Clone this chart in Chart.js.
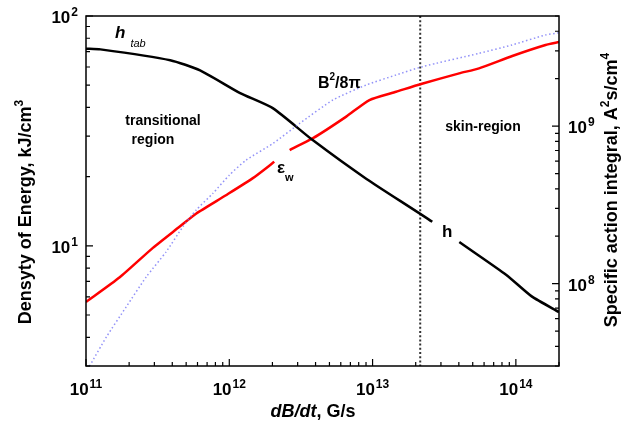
<!DOCTYPE html>
<html>
<head>
<meta charset="utf-8">
<script src="https://cdn.jsdelivr.net/npm/chart.js@4.4.1/dist/chart.umd.min.js"></script>
<style>
    html, body { margin: 0; padding: 0; background: #fff; }
    #wrap { width: 624px; height: 434px; }
</style>
</head>
<body>
<div id="wrap"><canvas id="chart" width="624" height="434"></canvas></div>
<script>
// dB/dt (G/s) vs. specific action integral h (A^2 s/cm^4), right axis
const hX = [1e11, 1.26e11, 3.87e11, 6.25e11, 1.19e12, 2.01e12, 3.82e12, 9.07e12, 2.61e13, 4.03e13, 8.54e13, 1.29e14, 2e14];
const hY = [3.1e9, 3.07e9, 2.62e9, 2.26e9, 1.62e9, 1.30e9, 8.15e8, 4.62e8, 2.47e8, 1.84e8, 1.14e8, 8.3e7, 6.6e7];
const hGapAfter = 8; // label "h" sits in this gap

// energy density eps_w, kJ/cm^3 (left axis)
const epsX = [1e11, 1.72e11, 2.93e11, 4.49e11, 5.86e11, 9.48e11, 1.46e12, 2.06e12, 2.64e12, 3.84e12, 6.55e12, 9.51e12, 1.46e13, 2.18e13, 4.02e13, 5.53e13, 9.44e13, 1.61e14, 2e14];
const epsY = [5.7, 7.3, 9.8, 12.1, 13.8, 16.6, 19.7, 23.2, 26.1, 29.4, 36.5, 43.1, 46.8, 50.6, 56.3, 59.2, 67.0, 74.8, 77.0];
const epsGapAfter = 7; // label "eps_w" gap

// magnetic energy density B^2/8pi, kJ/cm^3 (left axis)
const bX = [1.06e11, 1.39e11, 1.91e11, 2.64e11, 3.63e11, 4.74e11, 5.86e11, 7.67e11, 1.0e12, 1.31e12, 2.02e12, 3.1e12, 5.29e12, 9.03e12, 1.46e13, 2.23e13, 5.53e13, 9.4e13, 1.61e14, 2e14];
const bY = [3.0, 4.02, 5.43, 7.34, 9.43, 12.1, 14.3, 16.9, 20.3, 23.6, 27.9, 34.1, 43.1, 50.1, 55.4, 60.2, 68.8, 74.8, 82.7, 84.5];

const skinBoundary = 2.15e13;
const xDecades = [11, 12, 13, 14];
const yLeftDecades = [0, 1, 2];
const yRightDecades = [7, 8, 9];

const FONT = '"Liberation Sans", Arial, sans-serif';

function pts(xs, ys) {
    return xs.map((x, i) => ({x: x, y: ys[i]}));
}

// text runs (with sub/superscripts) laid out left to right
function runsWidth(ctx, runs) {
    let w = 0;
    runs.forEach(r => {
        ctx.font = r.font;
        w += ctx.measureText(r.t).width + (r.gap || 0);
    });
    return w;
}

function drawRuns(ctx, x, y, runs, align) {
    let w = runsWidth(ctx, runs);
    let cx = align === 'center' ? x - w / 2 : align === 'right' ? x - w : x;
    ctx.textAlign = 'left';
    ctx.textBaseline = 'alphabetic';
    runs.forEach(r => {
        ctx.font = r.font;
        cx += (r.gap || 0);
        ctx.fillText(r.t, cx, y + (r.dy || 0));
        cx += ctx.measureText(r.t).width;
    });
}

function pow10(exp) {
    return [
        {t: '10', font: 'bold 17px ' + FONT},
        {t: String(exp), font: 'bold 12px ' + FONT, dy: -7, gap: 1}
    ];
}

function tickValues(decades, min, max) {
    let out = [];
    decades.forEach(d => {
        for (let m = 1; m <= 9; m++) {
            let v = m * Math.pow(10, d);
            if (v >= min * 0.999 && v <= max * 1.001) out.push({v: v, major: m === 1});
        }
    });
    return out;
}

const decor = {
    id: 'decor',
    beforeDatasetsDraw(chart) {
        const {ctx, chartArea: a, scales} = chart;
        let px = scales.x.getPixelForValue(skinBoundary);
        ctx.save();
        ctx.strokeStyle = '#333';
        ctx.lineWidth = 2;
        ctx.setLineDash([2, 2.2]);
        ctx.beginPath();
        ctx.moveTo(px, a.top);
        ctx.lineTo(px, a.bottom);
        ctx.stroke();
        ctx.restore();
    },
    afterDraw(chart) {
        const {ctx, chartArea: a, scales} = chart;
        const sx = scales.x, sy = scales.y, sy1 = scales.y1;
        ctx.save();

        // frame
        ctx.strokeStyle = '#000';
        ctx.lineWidth = 1.5;
        ctx.strokeRect(a.left, a.top, a.right - a.left, a.bottom - a.top);

        // inward ticks
        ctx.lineWidth = 1.2;
        ctx.beginPath();
        tickValues(xDecades, sx.min, sx.max).forEach(t => {
            let p = sx.getPixelForValue(t.v);
            ctx.moveTo(p, a.bottom);
            ctx.lineTo(p, a.bottom - (t.major ? 7 : 4));
        });
        tickValues(yLeftDecades, sy.min, sy.max).forEach(t => {
            let p = sy.getPixelForValue(t.v);
            ctx.moveTo(a.left, p);
            ctx.lineTo(a.left + (t.major ? 7 : 4), p);
        });
        tickValues(yRightDecades, sy1.min, sy1.max).forEach(t => {
            let p = sy1.getPixelForValue(t.v);
            ctx.moveTo(a.right, p);
            ctx.lineTo(a.right - (t.major ? 7 : 4), p);
        });
        ctx.stroke();

        // tick labels
        ctx.fillStyle = '#000';
        xDecades.forEach(d => {
            drawRuns(ctx, sx.getPixelForValue(Math.pow(10, d)), 395, pow10(d), 'center');
        });
        [1, 2].forEach(d => {
            drawRuns(ctx, 78, sy.getPixelForValue(Math.pow(10, d)) + 7, pow10(d), 'right');
        });
        [8, 9].forEach(d => {
            drawRuns(ctx, 568, sy1.getPixelForValue(Math.pow(10, d)) + 7, pow10(d), 'left');
        });

        // annotations
        drawRuns(ctx, 115, 38, [
            {t: 'h', font: 'italic bold 17px ' + FONT},
            {t: 'tab', font: 'italic 11px ' + FONT, dy: 9, gap: 5}
        ]);
        drawRuns(ctx, 163, 125, [{t: 'transitional', font: 'bold 14px ' + FONT}], 'center');
        drawRuns(ctx, 153, 144, [{t: 'region', font: 'bold 14px ' + FONT}], 'center');
        drawRuns(ctx, 318, 88, [
            {t: 'B', font: 'bold 16px ' + FONT},
            {t: '2', font: 'bold 10px ' + FONT, dy: -8},
            {t: '/8\u03c0', font: 'bold 16px ' + FONT}
        ]);
        drawRuns(ctx, 277, 173, [
            {t: '\u03b5', font: 'bold 17px ' + FONT},
            {t: 'w', font: 'bold 11px ' + FONT, dy: 8}
        ]);
        drawRuns(ctx, 442, 237, [{t: 'h', font: 'bold 17px ' + FONT}]);
        drawRuns(ctx, 483, 131, [{t: 'skin-region', font: 'bold 14px ' + FONT}], 'center');

        // axis titles
        drawRuns(ctx, 313, 417, [
            {t: 'dB/dt', font: 'italic bold 18px ' + FONT},
            {t: ', G/s', font: 'bold 18px ' + FONT}
        ], 'center');

        ctx.save();
        ctx.translate(31, 212);
        ctx.rotate(-Math.PI / 2);
        drawRuns(ctx, 0, 0, [
            {t: 'Densyty of Energy, kJ/cm', font: 'bold 18px ' + FONT},
            {t: '3', font: 'bold 12px ' + FONT, dy: -8}
        ], 'center');
        ctx.restore();

        ctx.save();
        ctx.translate(617, 190);
        ctx.rotate(-Math.PI / 2);
        drawRuns(ctx, 0, 0, [
            {t: 'Specific action integral, A', font: 'bold 18px ' + FONT},
            {t: '2', font: 'bold 12px ' + FONT, dy: -8},
            {t: 's/cm', font: 'bold 18px ' + FONT},
            {t: '4', font: 'bold 12px ' + FONT, dy: -8}
        ], 'center');
        ctx.restore();

        ctx.restore();
    }
};

function gapAt(idx) {
    return ctx => ctx.p0DataIndex === idx ? 'rgba(0,0,0,0)' : undefined;
}

const hiddenAxis = {
    grid: {display: false},
    border: {display: false},
    ticks: {display: false}
};

new Chart(document.getElementById('chart'), {
    type: 'line',
    data: {
        datasets: [
            {
                label: 'B^2/8pi',
                data: pts(bX, bY),
                yAxisID: 'y',
                borderColor: 'rgba(110,110,245,0.75)',
                borderWidth: 1.5,
                borderDash: [1.5, 2.5],
                tension: 0.2
            },
            {
                label: 'h',
                data: pts(hX, hY),
                yAxisID: 'y1',
                borderColor: '#000',
                borderWidth: 2.5,
                tension: 0.2,
                segment: {borderColor: gapAt(hGapAfter)}
            },
            {
                label: 'eps_w',
                data: pts(epsX, epsY),
                yAxisID: 'y',
                borderColor: '#ff0000',
                borderWidth: 2.5,
                tension: 0.2,
                segment: {borderColor: gapAt(epsGapAfter)}
            }
        ]
    },
    options: {
        responsive: false,
        animation: false,
        devicePixelRatio: 1,
        layout: {padding: {top: 16, left: 0, right: 0, bottom: 0}},
        plugins: {legend: {display: false}, tooltip: {enabled: false}},
        elements: {point: {radius: 0}},
        scales: {
            x: Object.assign({type: 'logarithmic', min: 1e11, max: 2e14,
                afterFit: s => { s.height = 68; }}, hiddenAxis),
            y: Object.assign({type: 'logarithmic', position: 'left', min: 3, max: 100,
                afterFit: s => { s.width = 86; }}, hiddenAxis),
            y1: Object.assign({type: 'logarithmic', position: 'right', min: 3e7, max: 5e9,
                afterFit: s => { s.width = 65; }}, hiddenAxis)
        }
    },
    plugins: [decor]
});
</script>
</body>
</html>
